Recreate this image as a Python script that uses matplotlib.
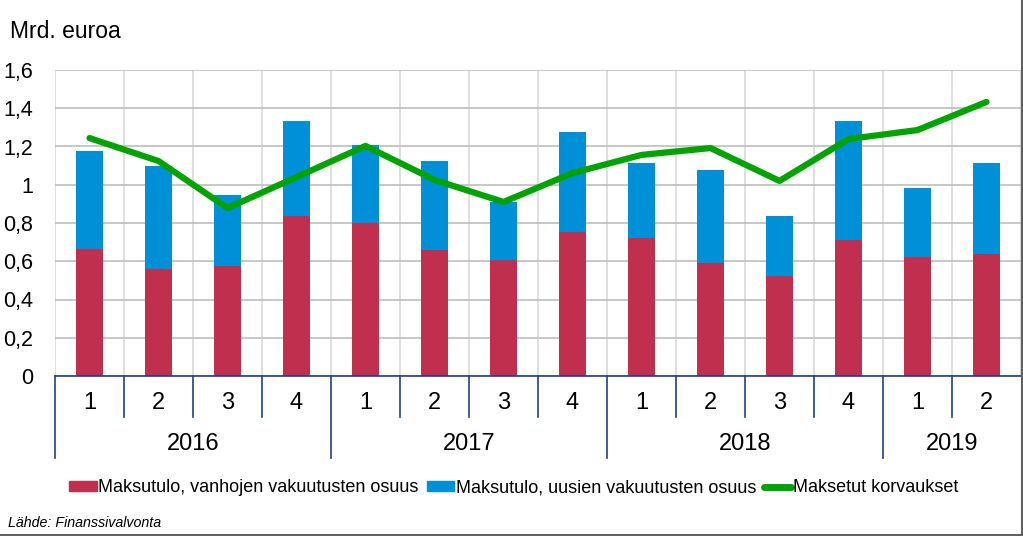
import matplotlib.pyplot as plt
import matplotlib.transforms as mtransforms
from matplotlib.lines import Line2D
import numpy as np

plt.rcParams['font.family'] = ['Liberation Sans', 'DejaVu Sans']

years = ['2016', '2017', '2018', '2019']
quarters = ['1', '2', '3', '4', '1', '2', '3', '4', '1', '2', '3', '4', '1', '2']
quarters_per_year = [4, 4, 4, 2]

old_policies = [0.664, 0.56, 0.575, 0.837, 0.80, 0.66, 0.607, 0.753,
                0.72, 0.59, 0.523, 0.71, 0.622, 0.638]
new_policies = [0.512, 0.54, 0.371, 0.496, 0.41, 0.464, 0.303, 0.523,
                0.394, 0.487, 0.314, 0.623, 0.361, 0.476]
claims_paid = [1.244, 1.124, 0.878, 1.04, 1.203, 1.025, 0.91, 1.061,
               1.156, 1.192, 1.02, 1.239, 1.286, 1.433]

red = '#C0304E'
blue = '#0090D8'
green = '#00A300'
axis_blue = '#1F3F8F'

fig = plt.figure(figsize=(10.23, 5.36), dpi=100)
ax = fig.add_axes([55 / 1023, 1 - 376 / 536, 966 / 1023, 306 / 536])

x = np.arange(len(quarters))
ax.bar(x, old_policies, width=0.4, color=red, zorder=3)
ax.bar(x, new_policies, width=0.4, bottom=old_policies, color=blue, zorder=3)
ax.plot(x, claims_paid, color=green, lw=4.5, zorder=4, solid_capstyle='round')

ax.set_xlim(-0.5, len(quarters) - 0.5)
ax.set_ylim(0, 1.6)
ax.set_yticks(np.arange(0, 1.61, 0.2))
ax.set_yticklabels(['0', '0,2', '0,4', '0,6', '0,8', '1', '1,2', '1,4', '1,6'])
ax.tick_params(axis='y', length=0, labelsize=15.5, pad=16)
ax.grid(axis='y', color='#BEBEBE', lw=1.2, zorder=0)
for b in np.arange(-0.5, len(quarters), 1.0):
    ax.axvline(b, color='#D9D9D9', lw=1.2, zorder=0)

ax.set_xticks([])
for s in ['top', 'right', 'left']:
    ax.spines[s].set_visible(False)
ax.spines['bottom'].set_color(axis_blue)
ax.spines['bottom'].set_linewidth(1.2)
ax.spines['bottom'].set_zorder(5)

# two-level category axis
trans = mtransforms.blended_transform_factory(ax.transData, ax.transAxes)
ax_h = 306
q_bottom = -41 / ax_h
y_bottom = -82 / ax_h
for i, q in enumerate(quarters):
    ax.text(i, -27 / ax_h, q, transform=trans, ha='center', va='center',
            fontsize=17)
start = 0
year_edges = [-0.5]
for yr, n in zip(years, quarters_per_year):
    ax.text(start + (n - 1) / 2, -68 / ax_h, yr, transform=trans,
            ha='center', va='center', fontsize=17)
    start += n
    year_edges.append(start - 0.5)
for b in np.arange(-0.5, len(quarters) - 0.5, 1.0):
    y0 = y_bottom if b in year_edges else q_bottom
    ax.add_line(Line2D([b, b], [0, y0], transform=trans, color=axis_blue,
                       lw=1.2, clip_on=False))

fig.text(10 / 1023, 1 - 31 / 536, 'Mrd. euroa', fontsize=16.5, va='center')

handles = [
    plt.Rectangle((0, 0), 1, 1, color=red),
    plt.Rectangle((0, 0), 1, 1, color=blue),
    Line2D([0], [0], color=green, lw=5, solid_capstyle='round'),
]
labels = ['Maksutulo, vanhojen vakuutusten osuus',
          'Maksutulo, uusien vakuutusten osuus',
          'Maksetut korvaukset']
fig.legend(handles, labels, loc='center', bbox_to_anchor=(514 / 1023, 1 - 488 / 536),
           ncol=3, frameon=False, fontsize=13, handlelength=1.5, handleheight=0.45,
           handletextpad=0.1, columnspacing=0.45)

fig.text(8 / 1023, 1 - 523 / 536, 'Lähde: Finanssivalvonta', fontsize=10.3,
         style='italic', va='center')

# outer frame lines at right and bottom
fig.add_artist(Line2D([0, 1], [1.5 / 536, 1.5 / 536], transform=fig.transFigure,
                      color='#606060', lw=1.5))
fig.add_artist(Line2D([1 - 1.5 / 1023, 1 - 1.5 / 1023], [0, 1], transform=fig.transFigure,
                      color='#606060', lw=1.5))

fig.savefig('out.png', dpi=100)
